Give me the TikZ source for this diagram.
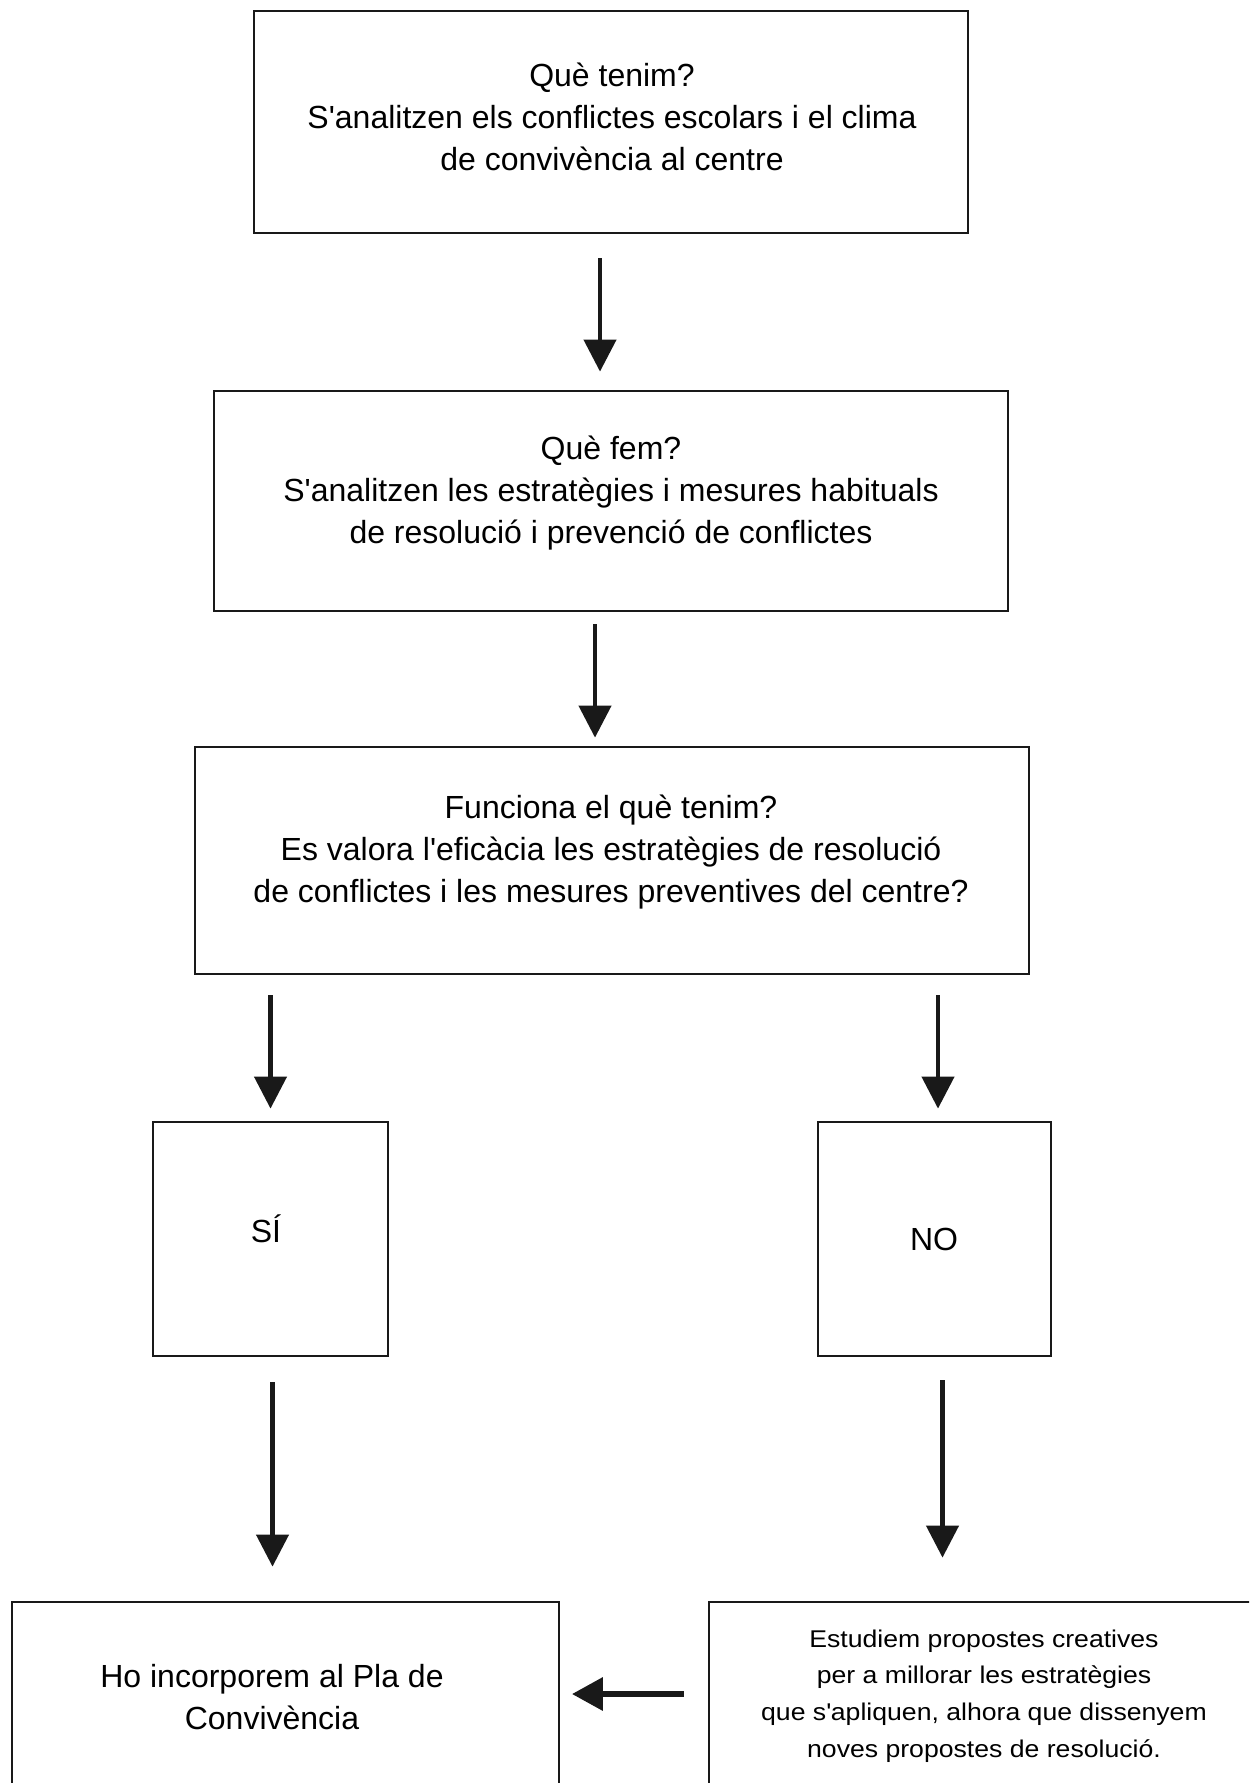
\documentclass[tikz,border=0pt]{standalone}
\usepackage{fontspec}
\setmainfont{Liberation Sans}
\newfontfamily\widesans[FakeStretch=1.1]{Liberation Sans}
\usetikzlibrary{arrows.meta}
\begin{document}
\begin{tikzpicture}[x=0.5pt,y=-0.5pt,
  box/.style={draw=black!90, line width=1.4pt, inner sep=0pt},
  txt/.style={align=center, font=\fontsize{16pt}{21pt}\selectfont, inner sep=0pt},
  smalltxt/.style={align=center, font=\widesans\fontsize{12.1pt}{18.3pt}\selectfont, inner sep=0pt},
  arr/.style={line width=2.2pt, draw=black!90, -{Triangle[length=16pt,width=16pt]}},
  harr/.style={line width=3.2pt, draw=black!90, -{Triangle[length=15.5pt,width=16pt]}}]
\useasboundingbox (0,0) rectangle (1249,1783);
\clip (0,0) rectangle (1249,1783);
% boxes
\node[box, minimum width=357pt, minimum height=111pt] (b1) at (611,122) {};
\node[box, minimum width=397pt, minimum height=110pt] (b2) at (611,501) {};
\node[box, minimum width=417pt, minimum height=113.5pt] (b3) at (612,860.5) {};
\node[box, minimum width=117.5pt, minimum height=117pt] (si) at (270.5,1239) {};
\node[box, minimum width=116.5pt, minimum height=117pt] (no) at (934.5,1239) {};
\node[box, minimum width=273.5pt, minimum height=99pt] (hl) at (285.5,1701) {};
\node[box, minimum width=276.5pt, minimum height=99pt] (hr) at (985.5,1701) {};
% texts
\node[txt] (t1) at (612,117) {Què tenim?\\S\textquotesingle analitzen els conflictes escolars i el clima\\de convivència al centre};
\node[txt] (t2) at (611,493.5) {Què fem?\\S\textquotesingle analitzen les estratègies i mesures habituals\\de resolució i prevenció de conflictes};
\node[txt] (t3) at (611,852) {Funciona el què tenim?\\Es valora l\textquotesingle eficàcia les estratègies de resolució\\de conflictes i les mesures preventives del centre?};
\node[txt] (ts) at (266,1229) {SÍ};
\node[txt] (tn) at (934,1239) {NO};
\node[txt] (thl) at (272,1697) {Ho incorporem al Pla de\\Convivència};
\node[smalltxt] (thr) at (984,1696) {Estudiem propostes creatives\\per a millorar les estratègies\\que s\textquotesingle apliquen, alhora que dissenyem\\noves propostes de resolució.};
% connectors
\draw[arr, shorten <=12pt, shorten >=9pt] ([xshift=-5.5pt]b1.south) -- ([xshift=-5.5pt]b1.south |- b2.north);
\draw[arr, shorten <=6pt, shorten >=4pt] ([xshift=-8pt]b2.south) -- ([xshift=-8pt]b2.south |- b3.north);
\draw[arr, shorten <=10pt, shorten >=6pt] (si.north |- b3.south) -- (si.north);
\draw[arr, shorten <=10pt, shorten >=6pt] ([xshift=1.75pt]no.north |- b3.south) -- ([xshift=1.75pt]no.north);
\draw[arr, shorten <=12.5pt, shorten >=17pt] ([xshift=1pt]si.south) -- ([xshift=1pt]si.south |- hl.north);
\draw[arr, shorten <=11.5pt, shorten >=21.5pt] ([xshift=4pt]no.south) -- ([xshift=4pt]no.south |- hr.north);
\draw[harr, shorten <=12pt, shorten >=5.75pt] ([yshift=3.5pt]hr.west) -- ([yshift=3.5pt]hr.west -| hl.east);
\end{tikzpicture}
\end{document}
